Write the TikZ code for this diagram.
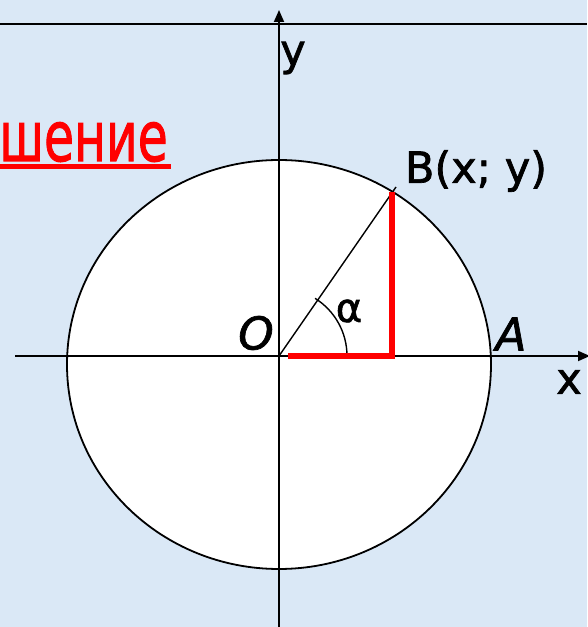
\documentclass[tikz,border=0pt]{standalone}
\usepackage{fontspec}
\setmainfont{DejaVu Sans}[FakeBold=1.6]
\usetikzlibrary{arrows.meta}
\definecolor{bgblue}{RGB}{218,232,246}
\definecolor{redline}{RGB}{255,0,0}
\tikzset{
  axis/.style={line width=1.8pt, -{Triangle[length=12pt,width=10pt]}},
  lbl/.style={inner sep=0pt, font=\fontsize{43}{43}\selectfont},
  redseg/.style={redline, line width=6pt, line join=miter},
  thin/.style={line width=1.4pt}
}
\begin{document}
\begin{tikzpicture}[x=1pt,y=1pt]
\useasboundingbox (0,0) rectangle (587,627);
\fill[bgblue] (0,0) rectangle (587,627);
% top rule
\draw[line width=2pt] (0,603) -- (587,603);
% circle
\filldraw[fill=white, draw=black, line width=1.8pt] (279,262.5) ellipse [x radius=212, y radius=204.5];
% coordinates
\coordinate (O) at (279,271);
\coordinate (F) at (392,271);
\coordinate (B) at (392,435);
\coordinate (Bend) at (396,440);
\coordinate (Rs) at (288,271);
\coordinate (Xs) at (15,271);
\coordinate (Xe) at (590,271);
\coordinate (Ys) at (279,-2);
\coordinate (Ye) at (279,617);
% axes
\draw[axis] (Xs) -- (Xe);
\draw[axis] (Ys) -- (Ye);
% radius line
\draw[thin] (O) -- (Bend);
% angle arc
\draw[thin] (347,271) arc[start angle=0, end angle=58, radius=68];
% red legs
\draw[redseg] (Rs) -- (F) -- (B);
% labels
\node[lbl, anchor=center] (ylab) at (293,569) {y};
\node[lbl, anchor=center, font=\fontsize{45}{45}\selectfont\itshape] (olab) at (256,294) {O};
\node[lbl, anchor=center, font=\fontsize{45}{45}\selectfont\itshape] (alab) at (511,293) {A};
\node[lbl, anchor=center] (xlab) at (569,245) {x};
\node[lbl, anchor=center, font=\fontsize{40}{40}\selectfont] (alpha) at (349,316) {α};
\node[lbl, anchor=center] (blab) at (476,456) {B(x; y)};
% title fragment
\node[inner sep=0pt, anchor=base east, text=redline] (title) at (168,466) {\scalebox{0.74}[1.05]{\fontsize{66}{66}\selectfont шение}};
\draw[redline, line width=5pt] (0,460) -- (171,460);
\end{tikzpicture}
\end{document}
